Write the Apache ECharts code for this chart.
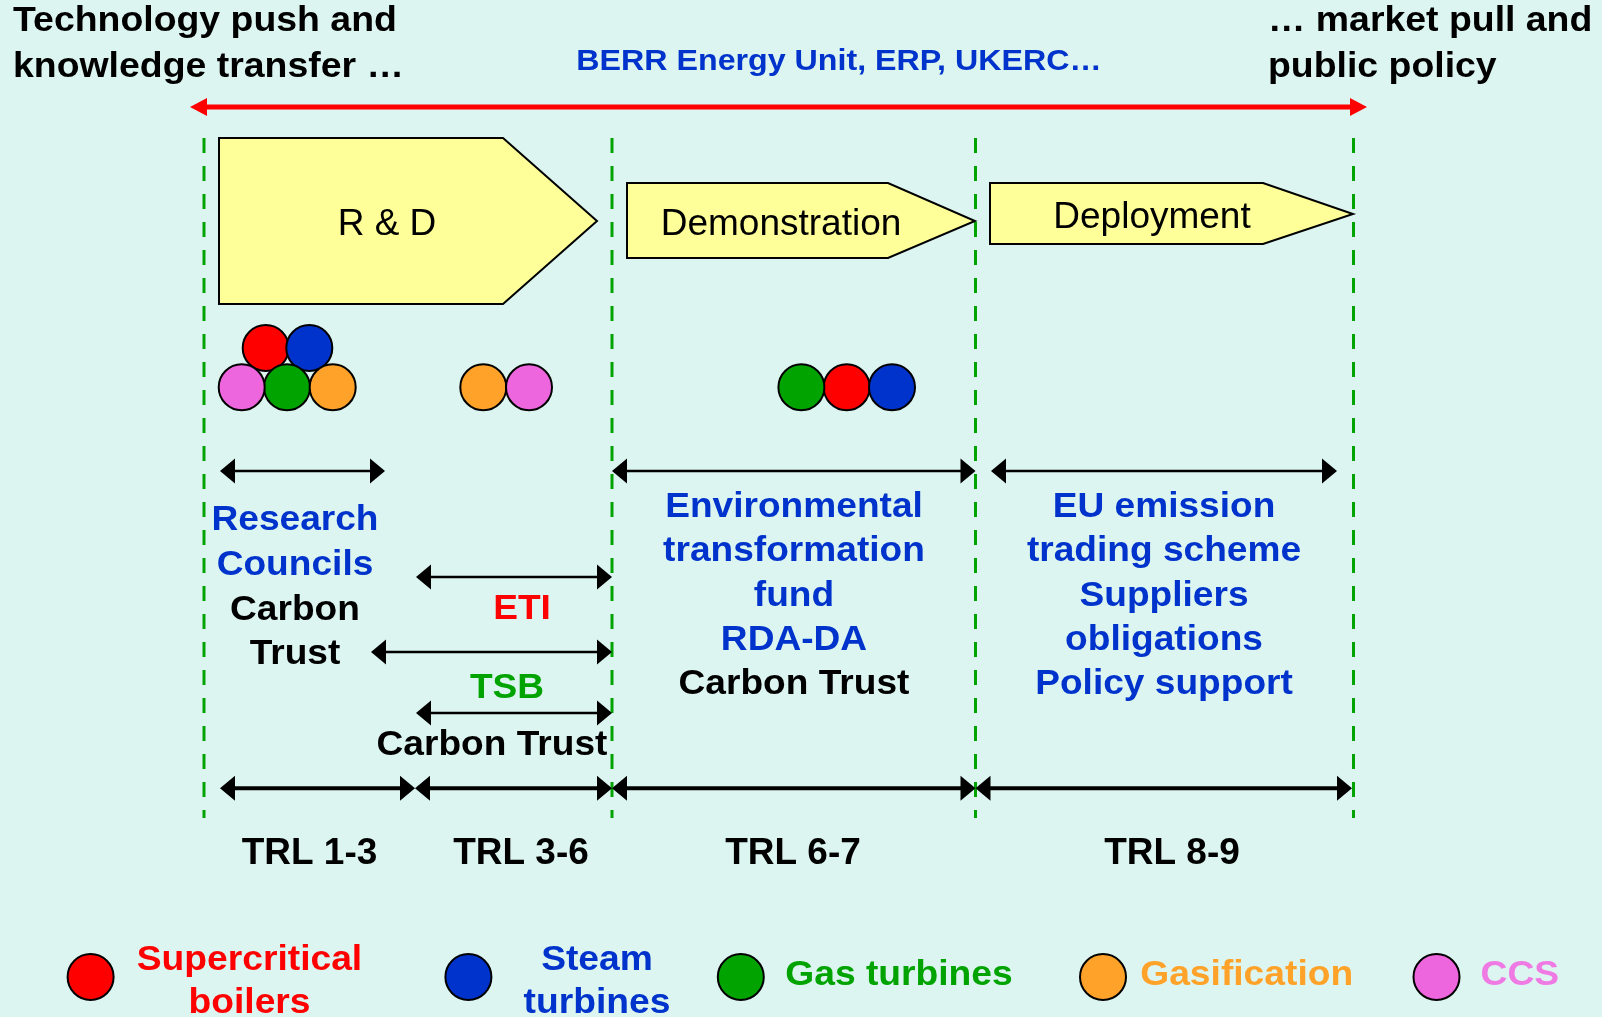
<!DOCTYPE html>
<html><head><meta charset="utf-8">
<script src="https://cdn.jsdelivr.net/npm/echarts@6/dist/echarts.min.js"></script>
<style>html,body{margin:0;padding:0;background:#DCF5F0;}#c{width:1602px;height:1017px;}</style>
</head><body><div id="c"></div>
<script>
// ---------------- DATA (diagram coordinates) ----------------
const stageNames = ['R & D', 'Demonstration', 'Deployment'];
const stageLeft = [219, 627, 990];
const stageShoulder = [503, 888, 1263];
const stageTip = [597, 975, 1353];
const stageTop = [138, 183, 183];
const stageBottom = [304, 258, 244];
const stageMid = [221, 221, 214];
const stageLabelX = [387, 781, 1152];
const stageLabelY = [222, 222, 215];

const boundaryX = [204, 612, 975.5, 1353.5];
const boundaryRange = [138, 818];

const techNames = ['Supercritical boilers', 'Steam turbines', 'Gas turbines', 'Gasification', 'CCS'];
const techLegendLabels = ['Supercritical\nboilers', 'Steam\nturbines', 'Gas turbines', 'Gasification', 'CCS'];
const techPositions = [
  [[265.7, 348], [846.7, 387.3]],
  [[309.3, 348], [892, 387.3]],
  [[287, 387.3], [801.4, 387.3]],
  [[332.7, 387.3], [483.3, 387.3]],
  [[241.7, 387.3], [529, 387.3]]
];
const legendMarkerX = [90.6, 468.4, 740.8, 1103, 1436.5];
const legendMarkerY = 977;
const legendLabelX = [249.5, 597, 899, 1246.7, 1519.8];
const legendLabelY = [978.5, 978.5, 972, 972, 972];

const cornerTexts = ['Technology push and', 'knowledge transfer …', '… market pull and', 'public policy'];
const cornerX = [13, 13, 1268, 1268];
const cornerY = [18.5, 64.5, 18.5, 64.5];

const umbrellaText = 'BERR Energy Unit, ERP, UKERC…';
const umbrellaPos = [839, 59];
const umbrellaArrow = [190, 1367, 107];

const fundSpans = [
  [220, 385, 471], [612, 975.5, 471], [991, 1337, 471],
  [416, 612, 577], [371, 612, 652], [416, 612, 713]
];

const orgLines = ['Research', 'Councils', 'Carbon', 'Trust', 'ETI', 'TSB', 'Carbon Trust',
  'Environmental', 'transformation', 'fund', 'RDA-DA', 'Carbon Trust',
  'EU emission', 'trading scheme', 'Suppliers', 'obligations', 'Policy support'];
const orgX = [295, 295, 295, 295, 522, 507, 492, 794, 794, 794, 794, 794, 1164, 1164, 1164, 1164, 1164];
const orgY = [517, 562, 607.5, 651, 606.5, 685, 742.5, 504, 548.5, 593, 637, 681.5, 504, 548.5, 593, 637, 681.5];
const orgKind = ['public', 'public', 'trust', 'trust', 'eti', 'tsb', 'trust',
  'public', 'public', 'public', 'public', 'trust',
  'public', 'public', 'public', 'public', 'public'];

const trlBounds = [220, 415, 612, 975.5, 1352];
const trlArrowY = 788.3;
const trlLabels = ['TRL 1-3', 'TRL 3-6', 'TRL 6-7', 'TRL 8-9'];
const trlLabelX = [309.5, 521, 793, 1172];
const trlLabelY = 850.5;

// ---------------- STYLE ----------------
const FONT = '"Liberation Sans", Arial, Helvetica, sans-serif';
const BG = '#DCF5F0';
const TEXT_DY = 3;
const techColors = ['#FF0000', '#0033CC', '#00A300', '#FFA229', '#EE66DD'];
const techTextColors = ['#FF0000', '#0033CC', '#00A300', '#FFA229', '#F07AE4'];
const kindColors = { public: '#0033CC', trust: '#000000', eti: '#FF0000', tsb: '#00A300' };

function headPts(api, tip, yv, dir, len, half) {
  const t = api.coord([tip, yv]);
  return [[t[0], t[1]], [t[0] - dir * len, t[1] - half], [t[0] - dir * len, t[1] + half]];
}
function doubleArrow(api, x0, x1, yv, color, lw, len, half) {
  const a = api.coord([x0, yv]), b = api.coord([x1, yv]);
  return [
    { type: 'line', shape: { x1: a[0] + len * 0.8, y1: a[1], x2: b[0] - len * 0.8, y2: b[1] }, style: { stroke: color, lineWidth: lw } },
    { type: 'polygon', shape: { points: headPts(api, x0, yv, -1, len, half) }, style: { fill: color } },
    { type: 'polygon', shape: { points: headPts(api, x1, yv, 1, len, half) }, style: { fill: color } }
  ];
}
function textEl(api, x, y, text, color, size, weight, align, sx) {
  const p = api.coord([x, y]);
  return { type: 'text', x: p[0], y: p[1] + TEXT_DY, scaleX: sx || 1,
    style: { text: text, fill: color, font: weight + ' ' + size + 'px ' + FONT, align: align, verticalAlign: 'middle', lineHeight: 43 } };
}

const series = [];

// boundaries
series.push({
  type: 'custom', name: 'boundaries', z: 1,
  data: boundaryX.map((x, i) => [x, i]),
  renderItem: (p, api) => {
    const a = api.coord([api.value(0), boundaryRange[0]]), b = api.coord([api.value(0), boundaryRange[1]]);
    return { type: 'line', shape: { x1: a[0], y1: a[1], x2: b[0], y2: b[1] }, style: { stroke: '#00A300', lineWidth: 3, lineDash: [15, 13] } };
  }
});

// stages
series.push({
  type: 'custom', name: 'stages', z: 2,
  data: stageNames.map((n, i) => [stageLeft[i], stageTop[i], i]),
  renderItem: (p, api) => {
    const i = api.value(2);
    const c = (x, y) => api.coord([x, y]);
    return { type: 'group', children: [
      { type: 'polygon', shape: { points: [c(stageLeft[i], stageTop[i]), c(stageShoulder[i], stageTop[i]), c(stageTip[i], stageMid[i]), c(stageShoulder[i], stageBottom[i]), c(stageLeft[i], stageBottom[i])] },
        style: { fill: '#FFFF99', stroke: '#000000', lineWidth: 2 } },
      textEl(api, stageLabelX[i], stageLabelY[i], stageNames[i], '#000000', 37, 'normal', 'center')
    ] };
  }
});

// umbrella arrow + texts
series.push({
  type: 'custom', name: 'umbrella', z: 3,
  data: [[umbrellaArrow[0], umbrellaArrow[2]]],
  renderItem: (p, api) => ({ type: 'group', children:
    doubleArrow(api, umbrellaArrow[0], umbrellaArrow[1], umbrellaArrow[2], '#FF0000', 5, 17, 9)
      .concat([textEl(api, umbrellaPos[0], umbrellaPos[1], umbrellaText, '#0033CC', 30, 'bold', 'center', 1.073)])
      .concat(cornerTexts.map((t, i) => textEl(api, cornerX[i], cornerY[i], t, '#000000', 35, 'bold', 'left', 1.069)))
  })
});

// funding spans
series.push({
  type: 'custom', name: 'funding', z: 3,
  data: fundSpans,
  renderItem: (p, api) => ({ type: 'group', children: doubleArrow(api, api.value(0), api.value(1), api.value(2), '#000000', 2.5, 15, 12.5) })
});

// TRL spans
series.push({
  type: 'custom', name: 'trl', z: 3,
  data: trlLabels.map((t, i) => [trlBounds[i], trlBounds[i + 1], i]),
  renderItem: (p, api) => {
    const i = api.value(2);
    return { type: 'group', children: doubleArrow(api, api.value(0), api.value(1), trlArrowY, '#000000', 4, 15, 12.5)
      .concat([textEl(api, trlLabelX[i], trlLabelY, trlLabels[i], '#000000', 37, 'bold', 'center')]) };
  }
});

// organisations text
series.push({
  type: 'custom', name: 'organisations', z: 4,
  data: orgLines.map((t, i) => [orgX[i], orgY[i], i]),
  renderItem: (p, api) => {
    const i = api.value(2);
    return textEl(api, orgX[i], orgY[i], orgLines[i], kindColors[orgKind[i]], 35, 'bold', 'center', 1.06);
  }
});

// technology circles
techNames.forEach((n, k) => {
  series.push({
    type: 'scatter', name: n, z: 5, symbol: 'circle', symbolSize: 46,
    itemStyle: { color: techColors[k], borderColor: '#000000', borderWidth: 2, opacity: 1 },
    data: techPositions[k].concat([[legendMarkerX[k], legendMarkerY]])
  });
});

// legend labels
series.push({
  type: 'custom', name: 'legendLabels', z: 5,
  data: techNames.map((n, k) => [legendLabelX[k], legendLabelY[k], k]),
  renderItem: (p, api) => {
    const k = api.value(2);
    return textEl(api, legendLabelX[k], legendLabelY[k], techLegendLabels[k], techTextColors[k], 35, 'bold', 'center', 1.063);
  }
});

const chart = echarts.init(document.getElementById('c'));
chart.setOption({
  backgroundColor: BG,
  animation: false,
  grid: { left: 0, right: 0, top: 0, bottom: 0 },
  xAxis: { type: 'value', min: 0, max: 1602, show: false },
  yAxis: { type: 'value', min: 0, max: 1017, inverse: true, show: false },
  tooltip: { show: false },
  series: series
});
</script></body></html>
